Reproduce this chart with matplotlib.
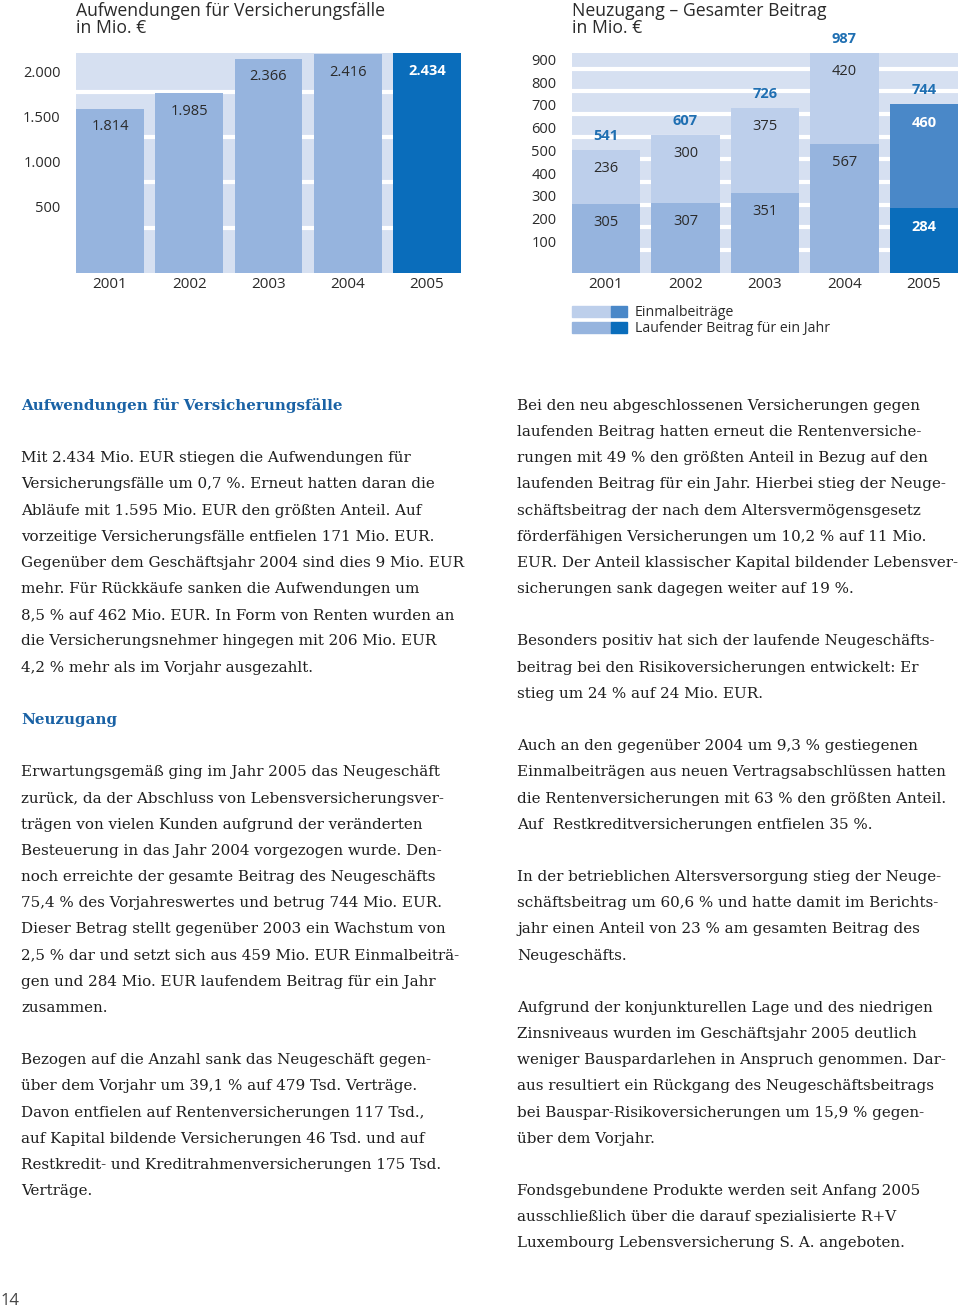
import matplotlib.pyplot as plt
from matplotlib.patches import Rectangle

# --- data -----------------------------------------------------------------
years = ["2001", "2002", "2003", "2004", "2005"]

aufwendungen = [1814, 1985, 2366, 2416, 2434]
aufw_labels = ["1.814", "1.985", "2.366", "2.416", "2.434"]
aufw_ticks = [500, 1000, 1500, 2000]
aufw_tick_labels = ["500", "1.000", "1.500", "2.000"]

laufend = [305, 307, 351, 567, 284]      # Laufender Beitrag für ein Jahr
einmal = [236, 300, 375, 420, 460]       # Einmalbeiträge
gesamt = [541, 607, 726, 987, 744]
neu_ticks = [100, 200, 300, 400, 500, 600, 700, 800, 900]

left_lines = [
    "Mit 2.434 Mio. EUR stiegen die Aufwendungen für",
    "Versicherungsfälle um 0,7 %. Erneut hatten daran die",
    "Abläufe mit 1.595 Mio. EUR den größten Anteil. Auf",
    "vorzeitige Versicherungsfälle entfielen 171 Mio. EUR.",
    "Gegenüber dem Geschäftsjahr 2004 sind dies 9 Mio. EUR",
    "mehr. Für Rückkäufe sanken die Aufwendungen um",
    "8,5 % auf 462 Mio. EUR. In Form von Renten wurden an",
    "die Versicherungsnehmer hingegen mit 206 Mio. EUR",
    "4,2 % mehr als im Vorjahr ausgezahlt.",
    "",
    "",
    "",
    "Erwartungsgemäß ging im Jahr 2005 das Neugeschäft",
    "zurück, da der Abschluss von Lebensversicherungsver-",
    "trägen von vielen Kunden aufgrund der veränderten",
    "Besteuerung in das Jahr 2004 vorgezogen wurde. Den-",
    "noch erreichte der gesamte Beitrag des Neugeschäfts",
    "75,4 % des Vorjahreswertes und betrug 744 Mio. EUR.",
    "Dieser Betrag stellt gegenüber 2003 ein Wachstum von",
    "2,5 % dar und setzt sich aus 459 Mio. EUR Einmalbeiträ-",
    "gen und 284 Mio. EUR laufendem Beitrag für ein Jahr",
    "zusammen.",
    "",
    "Bezogen auf die Anzahl sank das Neugeschäft gegen-",
    "über dem Vorjahr um 39,1 % auf 479 Tsd. Verträge.",
    "Davon entfielen auf Rentenversicherungen 117 Tsd.,",
    "auf Kapital bildende Versicherungen 46 Tsd. und auf",
    "Restkredit- und Kreditrahmenversicherungen 175 Tsd.",
    "Verträge.",
]
left_headings = {-2: "Aufwendungen für Versicherungsfälle", 10: "Neuzugang"}

right_lines = [
    "Bei den neu abgeschlossenen Versicherungen gegen",
    "laufenden Beitrag hatten erneut die Rentenversiche-",
    "rungen mit 49 % den größten Anteil in Bezug auf den",
    "laufenden Beitrag für ein Jahr. Hierbei stieg der Neuge-",
    "schäftsbeitrag der nach dem Altersvermögensgesetz",
    "förderfähigen Versicherungen um 10,2 % auf 11 Mio.",
    "EUR. Der Anteil klassischer Kapital bildender Lebensver-",
    "sicherungen sank dagegen weiter auf 19 %.",
    "",
    "Besonders positiv hat sich der laufende Neugeschäfts-",
    "beitrag bei den Risikoversicherungen entwickelt: Er",
    "stieg um 24 % auf 24 Mio. EUR.",
    "",
    "Auch an den gegenüber 2004 um 9,3 % gestiegenen",
    "Einmalbeiträgen aus neuen Vertragsabschlüssen hatten",
    "die Rentenversicherungen mit 63 % den größten Anteil.",
    "Auf  Restkreditversicherungen entfielen 35 %.",
    "",
    "In der betrieblichen Altersversorgung stieg der Neuge-",
    "schäftsbeitrag um 60,6 % und hatte damit im Berichts-",
    "jahr einen Anteil von 23 % am gesamten Beitrag des",
    "Neugeschäfts.",
    "",
    "Aufgrund der konjunkturellen Lage und des niedrigen",
    "Zinsniveaus wurden im Geschäftsjahr 2005 deutlich",
    "weniger Bauspardarlehen in Anspruch genommen. Dar-",
    "aus resultiert ein Rückgang des Neugeschäftsbeitrags",
    "bei Bauspar-Risikoversicherungen um 15,9 % gegen-",
    "über dem Vorjahr.",
    "",
    "Fondsgebundene Produkte werden seit Anfang 2005",
    "ausschließlich über die darauf spezialisierte R+V",
    "Luxembourg Lebensversicherung S. A. angeboten.",
]

# --- style ------------------------------------------------------------------
BAND = "#d6e0f1"
MID = "#96b4de"
LIGHT = "#bdcfeb"
DARK = "#0a6dbb"
DARK_UP = "#4a88c8"
TXT = "#2a2a2a"
BODY = "#1e1e1e"
BLUE_TXT = "#1f6fb2"
SANS = "Open Sans"
SERIF = "DejaVu Serif"

W, H = 960, 1307
fig = plt.figure(figsize=(W / 100, H / 100), dpi=100)


def px_axes(x0, y0, x1, y1):
    return fig.add_axes([x0 / W, 1 - y1 / H, (x1 - x0) / W, (y1 - y0) / H])


def fx(x):
    return x / W


def fy(y):
    return 1 - y / H


def style_axes(ax, ticks, tick_labels, shift):
    ax.set_facecolor(BAND)
    for s in ax.spines.values():
        s.set_visible(False)
    ax.set_yticks([])
    ax.set_xticks(range(len(years)))
    ax.set_xticklabels(years, fontsize=11, color=TXT, family=SANS)
    ax.tick_params(axis="x", length=0, pad=3)
    for v in ticks:
        ax.axhline(v, color="white", lw=3, zorder=1)
    for v, lab in zip(ticks, tick_labels):
        ax.annotate(lab, (0, v), xycoords=("axes fraction", "data"),
                    xytext=(-11, shift), textcoords="offset points",
                    ha="right", va="center", fontsize=10.5, color=TXT,
                    family=SANS, annotation_clip=False)


width = 0.857

# --- left chart: Aufwendungen für Versicherungsfälle ---------------------
ax1 = px_axes(76, 52.7, 461, 272.7)
x = range(len(years))
colors1 = [MID] * 4 + [DARK]
ax1.bar(x, aufwendungen, width, color=colors1, zorder=2)
ax1.set_xlim(-width / 2, len(years) - 1 + width / 2)
ax1.set_ylim(0, max(aufwendungen))
style_axes(ax1, aufw_ticks, aufw_tick_labels, 13.5)
for i, (v, lab) in enumerate(zip(aufwendungen, aufw_labels)):
    last = i == len(years) - 1
    ax1.annotate(lab, (i, v), xytext=(0, -13), textcoords="offset points",
                 ha="center", va="center", fontsize=10.5, family=SANS,
                 color="white" if last else TXT,
                 fontweight="bold" if last else "normal", zorder=3)

fig.text(fx(76), fy(15.7), "Aufwendungen für Versicherungsfälle",
         fontsize=12.7, family=SANS, color=TXT, va="baseline")
fig.text(fx(76), fy(33.3), "in Mio. €", fontsize=12.7, family=SANS,
         color=TXT, va="baseline")

# --- right chart: Neuzugang - Gesamter Beitrag ---------------------------
ax2 = px_axes(572, 52.7, 958, 272.7)
top = 970
low_colors = [MID] * 4 + [DARK]
up_colors = [LIGHT] * 4 + [DARK_UP]
ax2.bar(x, laufend, width, color=low_colors, zorder=2)
ax2.bar(x, einmal, width, bottom=laufend, color=up_colors, zorder=2)
ax2.set_xlim(-width / 2, len(years) - 1 + width / 2)
ax2.set_ylim(0, top)
style_axes(ax2, neu_ticks, [str(t) for t in neu_ticks], 5)
for i in x:
    last = i == len(years) - 1
    col = "white" if last else TXT
    fw = "bold" if last else "normal"
    ax2.annotate(str(laufend[i]), (i, laufend[i]), xytext=(0, -13.5),
                 textcoords="offset points", ha="center", va="center",
                 fontsize=10.5, family=SANS, color=col, fontweight=fw, zorder=3)
    t = min(gesamt[i], top)
    ax2.annotate(str(einmal[i]), (i, t), xytext=(0, -13.5),
                 textcoords="offset points", ha="center", va="center",
                 fontsize=10.5, family=SANS, color=col, fontweight=fw, zorder=3)
    ax2.annotate(str(gesamt[i]), (i, t), xytext=(0, 10),
                 textcoords="offset points", ha="center", va="center",
                 fontsize=10.5, family=SANS, color=BLUE_TXT,
                 fontweight="bold", annotation_clip=False)

fig.text(fx(572), fy(15.7), "Neuzugang – Gesamter Beitrag",
         fontsize=12.7, family=SANS, color=TXT, va="baseline")
fig.text(fx(572), fy(33.3), "in Mio. €", fontsize=12.7, family=SANS,
         color=TXT, va="baseline")

# legend swatches
legend_rows = [("Einmalbeiträge", LIGHT, DARK_UP, 306, 316.7),
               ("Laufender Beitrag für ein Jahr", MID, DARK, 321.7, 332.7)]
for lab, c1, c2, y0, y1 in legend_rows:
    fig.patches.append(Rectangle((fx(572), fy(y1)), fx(611 - 572), (y1 - y0) / H,
                                 transform=fig.transFigure, color=c1))
    fig.patches.append(Rectangle((fx(611), fy(y1)), fx(627 - 611), (y1 - y0) / H,
                                 transform=fig.transFigure, color=c2))
    fig.text(fx(635), fy((y0 + y1) / 2 + 1), lab, fontsize=10.2, family=SANS,
             color=TXT, va="center")

# --- body text ------------------------------------------------------------
base, step = 462.3, 26.17
for i, line in enumerate(left_lines):
    if line:
        fig.text(fx(21), fy(base + step * i), line, fontsize=10.9,
                 family=SERIF, color=BODY, va="baseline")
for i, line in left_headings.items():
    fig.text(fx(21), fy(base + step * i), line, fontsize=10.9,
             family=SERIF, color="#1a62a5", fontweight="bold", va="baseline")
for i, line in enumerate(right_lines):
    if line:
        fig.text(fx(517), fy(base + step * (i - 2)), line, fontsize=10.9,
                 family=SERIF, color=BODY, va="baseline")

fig.text(fx(1), fy(1305), "14", fontsize=12, family=SANS, color="#444444",
         va="baseline")

fig.savefig("out.png", dpi=100)
